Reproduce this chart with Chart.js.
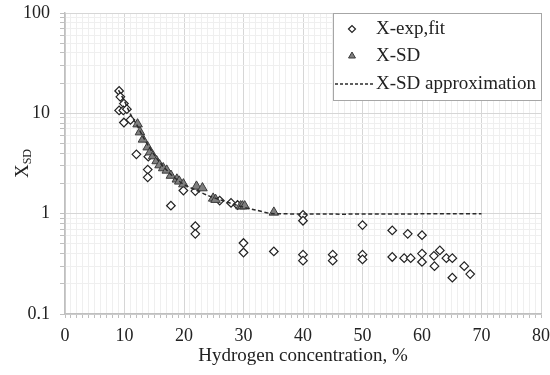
<!DOCTYPE html>
<html>
<head>
<meta charset="utf-8">
<script src="https://cdn.jsdelivr.net/npm/chart.js@4/dist/chart.umd.min.js"></script>
<style>
  html, body { margin: 0; padding: 0; background: #fff; }
  #wrap { width: 550px; height: 375px; }
</style>
</head>
<body>
<div id="wrap"><canvas id="xsd" width="550" height="375"></canvas></div>
<script>
// X-exp,fit (diamonds)
const expX = [9.1, 9.3, 9.9, 9.1, 9.8, 10.4, 11.0, 9.9, 12.0, 14.0, 13.9, 13.9, 17.8, 19.9, 21.9, 21.9, 21.9,
  26.0, 27.9, 29.0, 30.0, 30.0, 35.1, 40.0, 40.0, 40.0, 40.0, 45.0, 45.0, 50.0, 50.0, 50.0, 55.0, 55.0,
  57.0, 57.6, 58.1, 60.0, 60.0, 60.0, 62.0, 62.1, 63.0, 64.1, 65.1, 65.1, 67.1, 68.1];
const expY = [16.7, 14.6, 12.5, 10.7, 10.7, 11.0, 8.6, 8.1, 3.9, 3.7, 2.75, 2.3, 1.2, 1.7, 1.68, 0.75, 0.63,
  1.35, 1.28, 1.22, 0.51, 0.41, 0.42, 0.97, 0.85, 0.39, 0.34, 0.39, 0.34, 0.77, 0.39, 0.35, 0.68, 0.37,
  0.36, 0.63, 0.36, 0.61, 0.40, 0.33, 0.38, 0.30, 0.43, 0.36, 0.36, 0.23, 0.30, 0.25];

// X-SD (triangles)
const sdX = [12.2, 12.6, 13.1, 13.9, 14.3, 14.8, 15.4, 15.9, 16.5, 17.1, 17.8, 18.8, 19.2, 19.9,
  22.1, 23.1, 24.9, 25.3, 29.5, 29.8, 30.2, 35.1];
const sdY = [7.8, 6.5, 5.5, 4.6, 4.1, 3.75, 3.35, 3.05, 2.85, 2.7, 2.4, 2.2, 2.1, 1.97,
  1.87, 1.8, 1.42, 1.38, 1.19, 1.19, 1.19, 1.03];

// X-SD approximation (dashed)
const apprX = [9, 10, 11, 12, 13, 14, 15, 16, 17, 18, 19, 20, 22, 24, 26, 28, 30, 32, 35, 70];
const apprY = [17, 13.2, 9.8, 7.8, 6.0, 4.75, 3.85, 3.2, 2.75, 2.4, 2.15, 1.95, 1.72, 1.52, 1.38, 1.26, 1.16, 1.09, 1.0, 1.0];

const xTicks = [0, 10, 20, 30, 40, 50, 60, 70, 80];
const yTicks = [0.1, 1, 10, 100];
const legendLabels = ['X-exp,fit', 'X-SD', 'X-SD approximation'];

const serif = "'Liberation Serif', 'Times New Roman', serif";
const pts = (xs, ys) => xs.map((x, i) => ({ x: x, y: ys[i] }));
const isMajorY = v => yTicks.some(t => Math.abs(t - v) / t < 1e-6);

// y title with subscript + legend box
const extras = {
  id: 'extras',
  afterDraw(chart) {
    const ctx = chart.ctx;
    const area = chart.chartArea;
    ctx.save();
    // y title "X_SD"
    ctx.translate(21, (area.top + area.bottom) / 2);
    ctx.rotate(-Math.PI / 2);
    ctx.fillStyle = '#222';
    ctx.textBaseline = 'alphabetic';
    ctx.font = '19px ' + serif;
    const wX = ctx.measureText('X').width;
    ctx.font = '12px ' + serif;
    const wS = ctx.measureText('SD').width;
    const start = -(wX + wS) / 2;
    ctx.font = '19px ' + serif;
    ctx.fillText('X', start, 7);
    ctx.font = '12px ' + serif;
    ctx.fillText('SD', start + wX, 10);
    ctx.restore();

    // legend
    const bx = 333, by = 13, bw = 208, bh = 87;
    ctx.save();
    ctx.fillStyle = '#fff';
    ctx.fillRect(bx, by, bw, bh);
    ctx.strokeStyle = '#a6a6a6';
    ctx.lineWidth = 1;
    ctx.strokeRect(bx + 0.5, by + 0.5, bw, bh);
    ctx.font = '19px ' + serif;
    ctx.textBaseline = 'middle';
    const rows = [29, 56, 84];
    const ds = chart.data.datasets;
    ctx.fillStyle = ds[0].pointBackgroundColor; ctx.strokeStyle = ds[0].pointBorderColor;
    ctx.lineWidth = 1.2;
    Chart.helpers.drawPoint(ctx, { pointStyle: 'rectRot', radius: 3.5, borderWidth: 1.2 }, 352, rows[0]);
    ctx.fillStyle = ds[1].pointBackgroundColor; ctx.strokeStyle = ds[1].pointBorderColor;
    ctx.lineWidth = 1;
    Chart.helpers.drawPoint(ctx, { pointStyle: 'triangle', radius: 4, borderWidth: 1 }, 352, rows[1]);
    ctx.strokeStyle = ds[2].borderColor;
    ctx.lineWidth = 1.3;
    ctx.setLineDash([3, 2]);
    ctx.beginPath();
    ctx.moveTo(335, rows[2]);
    ctx.lineTo(373, rows[2]);
    ctx.stroke();
    ctx.setLineDash([]);
    ctx.fillStyle = '#222';
    ctx.fillText(legendLabels[0], 376, rows[0]);
    ctx.fillText(legendLabels[1], 376, rows[1]);
    ctx.fillText(legendLabels[2], 376, rows[2]);
    ctx.restore();
  }
};

new Chart(document.getElementById('xsd'), {
  type: 'scatter',
  data: {
    datasets: [
      {
        label: legendLabels[0],
        data: pts(expX, expY),
        pointStyle: 'rectRot',
        pointRadius: 4.3,
        pointBackgroundColor: '#ffffff',
        pointBorderColor: '#222222',
        pointBorderWidth: 1.2,
        showLine: false,
        order: 2
      },
      {
        label: legendLabels[1],
        data: pts(sdX, sdY),
        pointStyle: 'triangle',
        pointRadius: 5.5,
        pointBackgroundColor: '#7f7f7f',
        pointBorderColor: '#3a3a3a',
        pointBorderWidth: 1,
        showLine: false,
        order: 1
      },
      {
        label: legendLabels[2],
        data: pts(apprX, apprY),
        showLine: true,
        pointRadius: 0,
        borderColor: '#2b2b2b',
        borderWidth: 1.5,
        borderDash: [4, 2.5],
        tension: 0.3,
        fill: false,
        order: 0
      }
    ]
  },
  options: {
    responsive: false,
    animation: false,
    layout: { padding: { top: 13, right: 9, left: 0, bottom: 0 } },
    plugins: { legend: { display: false }, tooltip: { enabled: false } },
    scales: {
      x: {
        type: 'linear',
        min: 0, max: 80,
        afterFit(s) { s.height = 61; s.paddingLeft = 0; s.paddingRight = 0; },
        afterBuildTicks(s) {
          const t = [];
          for (let v = 0; v <= 80; v++) t.push({ value: v });
          s.ticks = t;
        },
        ticks: {
          autoSkip: false,
          maxRotation: 0,
          padding: 7,
          color: '#222',
          font: { family: serif, size: 18 },
          callback: v => (xTicks.includes(v) ? String(v) : '')
        },
        grid: {
          color: c => (c.tick && xTicks.includes(c.tick.value) ? '#d6d6d6' : '#efefef'),
          tickColor: '#bfbfbf',
          tickLength: 4,
          lineWidth: 1
        },
        border: { color: '#bfbfbf', width: 1.5 },
        title: {
          display: true,
          text: 'Hydrogen concentration, %',
          color: '#222',
          font: { family: serif, size: 19 },
          padding: { top: 0, bottom: 8 }
        }
      },
      y: {
        type: 'logarithmic',
        min: 0.1, max: 100,
        afterFit(s) { s.width = 65; s.paddingTop = 0; s.paddingBottom = 0; },
        afterBuildTicks(s) {
          const t = [];
          [0.1, 1, 10].forEach(d => {
            for (let k = 1; k < 10; k++) t.push({ value: +(d * k).toPrecision(3) });
          });
          t.push({ value: 100 });
          s.ticks = t;
        },
        ticks: {
          autoSkip: false,
          padding: 10,
          color: '#222',
          font: { family: serif, size: 18 },
          callback: v => (isMajorY(v) ? String(v) : '')
        },
        grid: {
          color: c => (c.tick && isMajorY(c.tick.value) ? '#d6d6d6' : '#efefef'),
          tickColor: '#bfbfbf',
          tickLength: 5,
          lineWidth: 1
        },
        border: { color: '#bfbfbf', width: 1.5 }
      }
    }
  },
  plugins: [extras]
});
</script>
</body>
</html>
